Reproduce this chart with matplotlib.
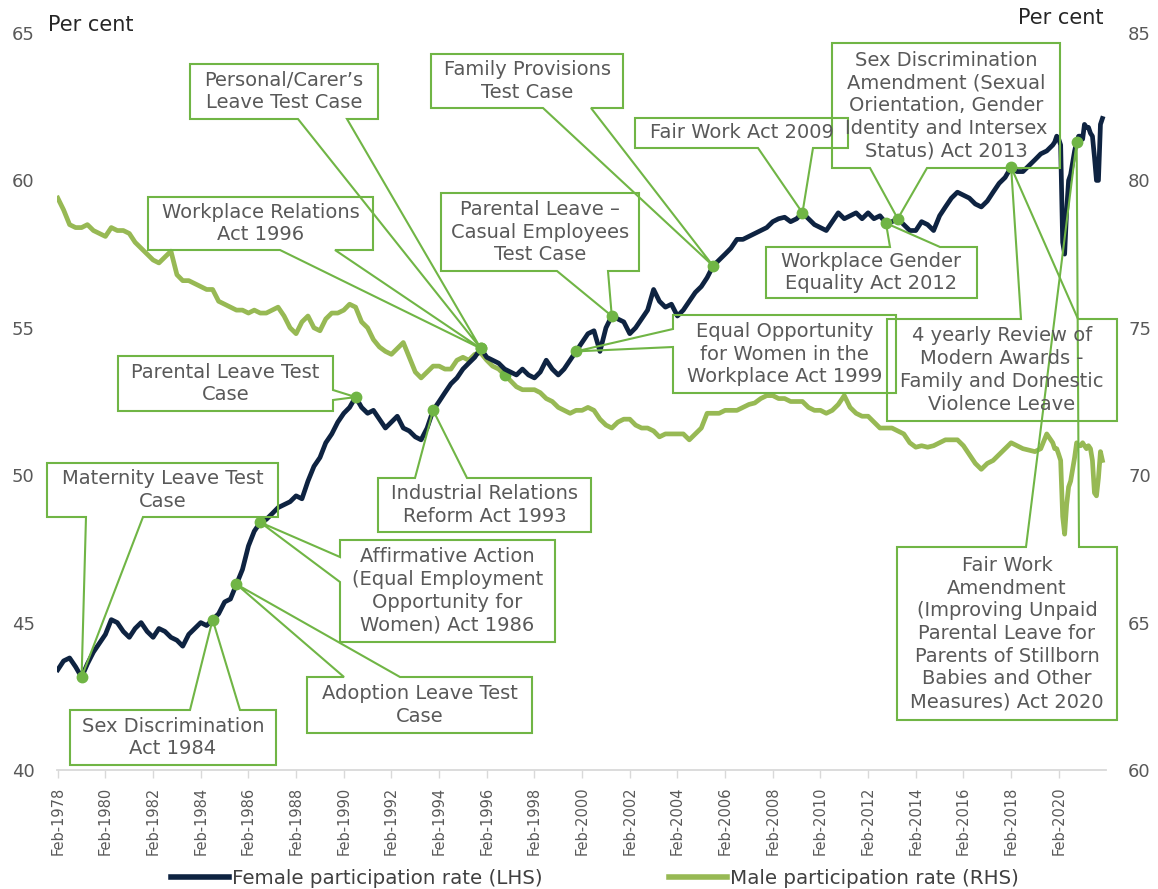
import numpy as np
import pandas as pd
import matplotlib
matplotlib.use("Agg")
import matplotlib.pyplot as plt
import matplotlib.dates as mdates
from matplotlib.patches import Polygon

# participation rates
# quarterly (Feb, May, Aug, Nov) from Feb-1978 to Nov-2019
female_q = [
    43.4, 43.7, 43.8, 43.5,  43.15, 43.6, 44.0, 44.3,  44.6, 45.1, 45.0, 44.7,
    44.5, 44.8, 45.0, 44.7,  44.5, 44.8, 44.7, 44.5,  44.4, 44.2, 44.6, 44.8,
    45.0, 44.9, 45.1, 45.3,  45.7, 45.8, 46.3, 46.8,  47.6, 48.1, 48.4, 48.5,
    48.7, 48.9, 49.0, 49.1,  49.3, 49.2, 49.8, 50.3,  50.6, 51.1, 51.4, 51.8,
    52.1, 52.3, 52.65, 52.3, 52.1, 52.2, 51.9, 51.6,  51.8, 52.0, 51.6, 51.5,
    51.3, 51.2, 51.6, 52.2,  52.5, 52.8, 53.1, 53.3,  53.6, 53.8, 54.0, 54.3,
    54.0, 53.9, 53.8, 53.6,  53.5, 53.4, 53.6, 53.4,  53.3, 53.5, 53.9, 53.6,
    53.4, 53.6, 53.9, 54.2,  54.5, 54.8, 54.9, 54.2,  55.0, 55.4, 55.3, 55.2,
    54.8, 55.0, 55.3, 55.6,  56.3, 55.9, 55.7, 55.8,  55.4, 55.6, 55.9, 56.2,
    56.4, 56.7, 57.1, 57.3,  57.5, 57.7, 58.0, 58.0,  58.1, 58.2, 58.3, 58.4,
    58.6, 58.7, 58.75, 58.6, 58.7, 58.9, 58.7, 58.5,  58.4, 58.3, 58.6, 58.9,
    58.7, 58.8, 58.9, 58.7,  58.9, 58.7, 58.8, 58.55, 58.6, 58.7, 58.5, 58.3,
    58.3, 58.6, 58.5, 58.3,  58.8, 59.1, 59.4, 59.6,  59.5, 59.4, 59.2, 59.1,
    59.3, 59.6, 59.9, 60.1,  60.45, 60.3, 60.3, 60.5, 60.7, 60.9, 61.0, 61.2,
]
male_q = [
    79.4, 79.0, 78.5, 78.4,  78.4, 78.5, 78.3, 78.2,  78.1, 78.4, 78.3, 78.3,
    78.2, 77.9, 77.7, 77.5,  77.3, 77.2, 77.4, 77.6,  76.8, 76.6, 76.6, 76.5,
    76.4, 76.3, 76.3, 75.9,  75.8, 75.7, 75.6, 75.6,  75.5, 75.6, 75.5, 75.5,
    75.6, 75.7, 75.4, 75.0,  74.8, 75.2, 75.4, 75.0,  74.9, 75.3, 75.5, 75.5,
    75.6, 75.8, 75.7, 75.2,  75.0, 74.6, 74.35, 74.2, 74.1, 74.3, 74.5, 74.0,
    73.5, 73.3, 73.5, 73.7,  73.7, 73.6, 73.6, 73.9,  74.0, 73.9, 74.1, 74.15,
    73.9, 73.7, 73.6, 73.4,  73.2, 73.0, 72.9, 72.9,  72.9, 72.8, 72.6, 72.5,
    72.3, 72.2, 72.1, 72.2,  72.2, 72.3, 72.2, 71.9,  71.7, 71.6, 71.8, 71.9,
    71.9, 71.7, 71.6, 71.6,  71.5, 71.3, 71.4, 71.4,  71.4, 71.4, 71.2, 71.4,
    71.6, 72.1, 72.1, 72.1,  72.2, 72.2, 72.2, 72.3,  72.4, 72.45, 72.6, 72.7,
    72.7, 72.6, 72.6, 72.5,  72.5, 72.5, 72.3, 72.2,  72.2, 72.1, 72.2, 72.4,
    72.7, 72.3, 72.1, 72.0,  72.0, 71.8, 71.6, 71.6,  71.6, 71.5, 71.4, 71.1,
    70.95, 71.0, 70.95, 71.0, 71.1, 71.2, 71.2, 71.2, 71.0, 70.7, 70.4, 70.2,
    70.4, 70.5, 70.7, 70.9,  71.1, 71.0, 70.9, 70.85, 70.8, 70.9, 71.4, 71.1,
]
# monthly from Dec-2019 to Dec-2021
female_m = [61.3, 61.5, 61.4, 61.2, 57.9, 57.5, 59.0, 60.0, 60.2, 60.6, 61.0, 61.3,
            61.5, 61.5, 61.4, 61.9, 61.8, 61.8, 61.6, 61.5, 60.8, 60.0, 60.0, 61.9, 62.1]
male_m = [70.9, 70.9, 70.7, 70.5, 68.6, 68.0, 69.0, 69.6, 69.8, 70.2, 70.6, 71.1,
          71.0, 71.0, 71.1, 71.0, 70.9, 71.0, 70.9, 70.5, 69.4, 69.3, 69.9, 70.8, 70.5]

dates = pd.date_range("1978-02-01", "2019-11-01", freq="3MS").append(
    pd.date_range("2019-12-01", "2021-12-01", freq="MS"))
female = pd.Series(female_q + female_m, index=dates)
male = pd.Series(male_q + male_m, index=dates)

# (text, series, marker date, box in px (x0, y0, x1, y1), edge of the wedge, wedge points)
callouts = [
    ("Maternity Leave Test\nCase", "F", "1979-02", (47, 463, 278, 517), "bottom", (86, 143)),
    ("Sex Discrimination\nAct 1984", "F", "1984-08", (70, 710, 276, 765), "top", (190, 240)),
    ("Adoption Leave Test\nCase", "F", "1985-08", (307, 677, 532, 733), "top", (344, 400)),
    ("Affirmative Action\n(Equal Employment\nOpportunity for\nWomen) Act 1986", "F", "1986-08",
     (340, 540, 555, 642), "left", (557, 582)),
    ("Parental Leave Test\nCase", "F", "1990-08", (118, 356, 333, 411), "right", (390, 400)),
    ("Industrial Relations\nReform Act 1993", "F", "1993-11", (378, 478, 591, 532), "top", (415, 467)),
    ("Workplace Relations\nAct 1996", "F", "1995-11", (148, 197, 373, 250), "bottom", (280, 335)),
    ("Personal/Carer\u2019s\nLeave Test Case", "F", "1995-11", (190, 64, 378, 119), "bottom", (298, 347)),
    ("Equal Opportunity\nfor Women in the\nWorkplace Act 1999", "F", "1999-11",
     (673, 315, 896, 393), "left", (329, 347)),
    ("Parental Leave \u2013\nCasual Employees\nTest Case", "F", "2001-05", (441, 193, 639, 271), "bottom", (557, 608)),
    ("Family Provisions\nTest Case", "F", "2005-08", (431, 54, 623, 108), "bottom", (543, 591)),
    ("Fair Work Act 2009", "F", "2009-05", (635, 118, 848, 148), "bottom", (758, 813)),
    ("Workplace Gender\nEquality Act 2012", "F", "2012-11", (766, 247, 977, 298), "top", (890, 940)),
    ("Sex Discrimination\nAmendment (Sexual\nOrientation, Gender\nIdentity and Intersex\nStatus) Act 2013",
     "F", "2013-05", (832, 43, 1060, 168), "bottom", (870, 927)),
    ("4 yearly Review of\nModern Awards -\nFamily and Domestic\nViolence Leave", "F", "2018-02",
     (887, 319, 1117, 421), "top", (1021, 1078)),
    ("Fair Work\nAmendment\n(Improving Unpaid\nParental Leave for\nParents of Stillborn\nBabies and Other\nMeasures) Act 2020",
     "F", "2020-11", (897, 547, 1117, 720), "top", (1026, 1079)),
]
extra_markers = ["1996-11"]  # lone marker on the male series

NAVY = "#0e2341"
OLIVE = "#97b954"
GREEN = "#70b545"
GREY = "#595959"

W, H = 1158, 889
L, R, T, B = 57, 1106, 33, 770

fig = plt.figure(figsize=(W / 100, H / 100), dpi=100)
ax = fig.add_axes([L / W, 1 - B / H, (R - L) / W, (B - T) / H])
ax2 = ax.twinx()
ax.set_zorder(ax2.get_zorder() + 1)
ax.patch.set_visible(False)

ax2.plot(male.index, male.values, color=OLIVE, lw=3.4, solid_joinstyle="round")
ax.plot(female.index, female.values, color=NAVY, lw=3.4, solid_joinstyle="round")

ax.set_ylim(40, 65)
ax2.set_ylim(60, 85)
ax.set_xlim(pd.Timestamp("1978-01-20"), pd.Timestamp("2022-01-25"))
ax.set_yticks(range(40, 66, 5))
ax2.set_yticks(range(60, 86, 5))
for a in (ax, ax2):
    for s in a.spines.values():
        s.set_visible(False)
    a.tick_params(axis="y", length=0, pad=16, labelsize=13, labelcolor=GREY)
ax.spines["bottom"].set_visible(True)
ax.spines["bottom"].set_color("#d9d9d9")
ax.spines["bottom"].set_linewidth(1.3)

ax.set_xticks(pd.date_range("1978-02-01", "2020-02-01", freq="24MS"))
ax.xaxis.set_major_formatter(mdates.DateFormatter("%b-%Y"))
ax.tick_params(axis="x", direction="out", length=6, width=1, color="#d9d9d9",
               labelsize=10.5, labelcolor=GREY, labelrotation=90, pad=6)

fig.text(48 / W, 1 - 25 / H, "Per cent", fontsize=15, color="#262626", va="center", ha="left")
fig.text(1103 / W, 1 - 18 / H, "Per cent", fontsize=15, color="#262626", va="center", ha="right")

fig.canvas.draw()


def to_px(a, d, v):
    x, y = a.transData.transform((mdates.date2num(pd.Timestamp(d)), v))
    return x, H - y


def fig_frac(pts):
    return [(x / W, 1 - y / H) for x, y in pts]


for text, ser, d, (x0, y0, x1, y1), edge, (a1, a2) in callouts:
    a, s = (ax, female) if ser == "F" else (ax2, male)
    d = pd.Timestamp(d)
    tgt = to_px(a, d, s[d])
    tl, tr, br, bl = (x0, y0), (x1, y0), (x1, y1), (x0, y1)
    if edge == "top":
        pts = [tl, (a1, y0), tgt, (a2, y0), tr, br, bl]
    elif edge == "right":
        pts = [tl, tr, (x1, a1), tgt, (x1, a2), br, bl]
    elif edge == "bottom":
        pts = [tl, tr, br, (a2, y1), tgt, (a1, y1), bl]
    else:
        pts = [tl, tr, br, bl, (x0, a2), tgt, (x0, a1)]
    fig.add_artist(Polygon(fig_frac(pts), closed=True, fill=False, edgecolor=GREEN,
                           lw=1.5, transform=fig.transFigure, zorder=5))
    fig.text((x0 + x1) / 2 / W, 1 - (y0 + y1) / 2 / H, text, fontsize=14, color=GREY,
             ha="center", va="center", multialignment="center", linespacing=1.25, zorder=6)
    a.plot([d], [s[d]], "o", color=GREEN, ms=7.5, zorder=7)

for d in extra_markers:
    d = pd.Timestamp(d)
    ax2.plot([d], [male[d]], "o", color=GREEN, ms=7.5, zorder=7)

h1, = ax.plot([], [], color=NAVY, lw=4)
h2, = ax.plot([], [], color=OLIVE, lw=4)
fig.legend([h1, h2], ["Female participation rate (LHS)", "Male participation rate (RHS)"],
           loc="center", bbox_to_anchor=(595 / W, 1 - 878 / H), ncol=2, frameon=False,
           fontsize=14.3, labelcolor="#404040", handlelength=2.9, handletextpad=0.15,
           columnspacing=6.4)

fig.savefig("out.png", dpi=100)
